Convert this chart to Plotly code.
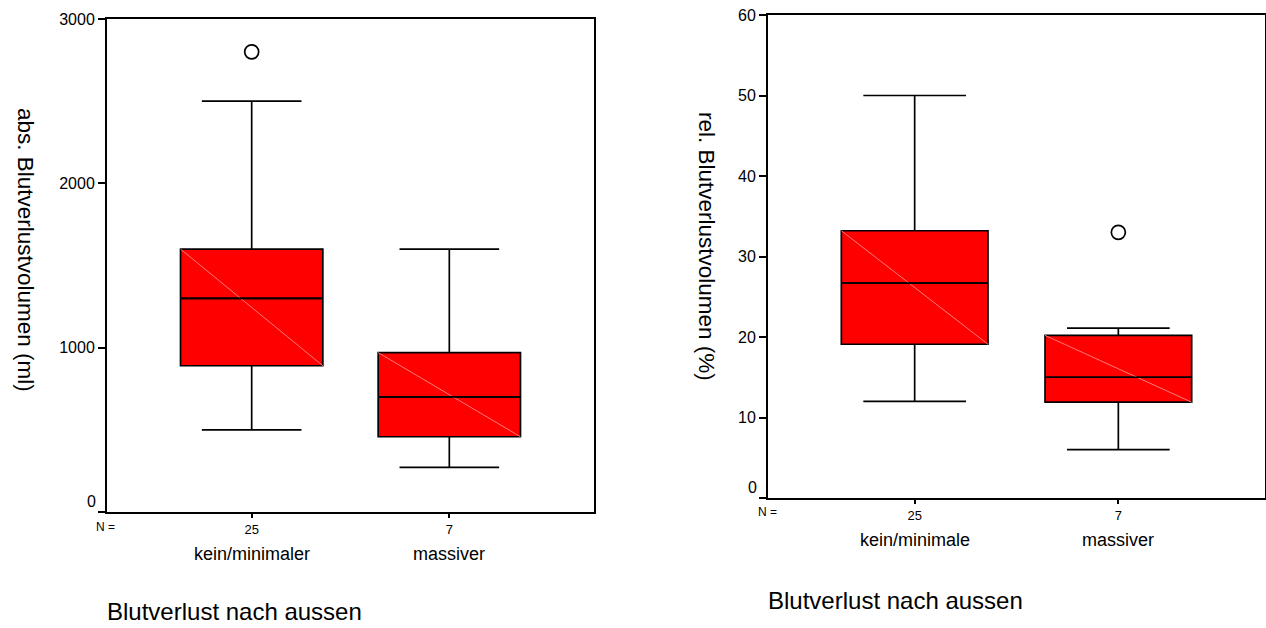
import plotly.graph_objects as go

# ---- data ----
categories = ["kein/minimaler", "massiver"]
categories_r = ["kein/minimale", "massiver"]
n_labels = ["25", "7"]

abs_q1 = [890, 458]
abs_median = [1300, 700]
abs_q3 = [1600, 970]
abs_low = [500, 272]
abs_high = [2500, 1600]
abs_outlier_x = [0]
abs_outlier_y = [2800]

rel_q1 = [19.1, 11.9]
rel_median = [26.7, 15.0]
rel_q3 = [33.2, 20.2]
rel_low = [12.0, 6.0]
rel_high = [50.0, 21.1]
rel_outlier_x = [1]
rel_outlier_y = [33.0]

abs_ticks = [0, 1000, 2000, 3000]
rel_ticks = [0, 10, 20, 30, 40, 50, 60]

positions = [0, 1]
BOXW = 0.72
FONT = "Arial, Liberation Sans, sans-serif"

fig = go.Figure()


def add_panel(q1, med, q3, lo, hi, ox, oy, xa, ya):
    fig.add_trace(go.Box(
        x=positions, q1=q1, median=med, q3=q3, lowerfence=lo, upperfence=hi,
        width=BOXW, whiskerwidth=0.7, boxpoints=False,
        fillcolor="#ff0000", line=dict(color="black", width=1.7),
        xaxis=xa, yaxis=ya, showlegend=False, hoverinfo="skip"))
    # faint diagonal inside each box
    for p, a, b in zip(positions, q3, q1):
        fig.add_trace(go.Scatter(
            x=[p - BOXW / 2, p + BOXW / 2], y=[a, b], mode="lines",
            line=dict(color="#ff7a7a", width=1), xaxis=xa, yaxis=ya,
            showlegend=False, hoverinfo="skip"))
    # redraw median on top of the diagonal
    for p, m in zip(positions, med):
        fig.add_trace(go.Scatter(
            x=[p - BOXW / 2, p + BOXW / 2], y=[m, m], mode="lines",
            line=dict(color="black", width=1.7), xaxis=xa, yaxis=ya,
            showlegend=False, hoverinfo="skip"))
    fig.add_trace(go.Scatter(
        x=ox, y=oy, mode="markers",
        marker=dict(symbol="circle-open", size=14, color="black",
                    line=dict(width=1.7, color="black")),
        xaxis=xa, yaxis=ya, showlegend=False, hoverinfo="skip"))


add_panel(abs_q1, abs_median, abs_q3, abs_low, abs_high,
          abs_outlier_x, abs_outlier_y, "x", "y")
add_panel(rel_q1, rel_median, rel_q3, rel_low, rel_high,
          rel_outlier_x, rel_outlier_y, "x2", "y2")

W, H = 1266, 628


def xdom(a, b):
    return [a / W, b / W]


def ydom(top, bottom):
    return [1 - bottom / H, 1 - top / H]


axis_common = dict(showline=True, linecolor="black", linewidth=2, mirror=True,
                   showgrid=False, zeroline=False, ticks="outside",
                   tickcolor="black", tickwidth=1.5, automargin=False)

fig.update_layout(
    width=W, height=H, margin=dict(l=0, r=0, t=0, b=0, autoexpand=False),
    paper_bgcolor="white", plot_bgcolor="white",
    font=dict(family=FONT, color="black"),
    xaxis=dict(domain=xdom(107, 594), range=[-0.732, 1.732],
               tickvals=positions, ticktext=n_labels, ticklen=4,
               tickfont=dict(size=13), **axis_common),
    yaxis=dict(domain=ydom(19, 512), range=[0, 3000],
               tickvals=abs_ticks,
               ticktext=["" if t == 0 else str(t) for t in abs_ticks],
               ticklen=7, tickfont=dict(size=16), **axis_common),
    xaxis2=dict(domain=xdom(768, 1265), range=[-0.72, 1.72], anchor="y2",
                tickvals=positions, ticktext=n_labels, ticklen=4,
                tickfont=dict(size=13), **axis_common),
    yaxis2=dict(domain=ydom(15, 498), range=[0, 60], anchor="x2",
                tickvals=rel_ticks,
                ticktext=["" if t == 0 else str(t) for t in rel_ticks],
                ticklen=7, tickfont=dict(size=16), **axis_common),
)

ann = []
# zero labels (shifted up like the original)
ann.append(dict(x=0, y=0, xref="x domain", yref="y", text="0", showarrow=False,
                xanchor="right", yanchor="middle", xshift=-9, yshift=11,
                font=dict(size=16)))
ann.append(dict(x=0, y=0, xref="x2 domain", yref="y2", text="0", showarrow=False,
                xanchor="right", yanchor="middle", xshift=-9, yshift=11,
                font=dict(size=16)))
# N =
ann.append(dict(x=105 / W, y=1 - 527 / H, xref="paper", yref="paper", text="N =",
                showarrow=False, xanchor="center", yanchor="middle", font=dict(size=12)))
ann.append(dict(x=767 / W, y=1 - 512 / H, xref="paper", yref="paper", text="N =",
                showarrow=False, xanchor="center", yanchor="middle", font=dict(size=12)))
# category labels
for p, c in zip(positions, categories):
    ann.append(dict(x=p, y=1 - 554 / H, xref="x", yref="paper", text=c,
                    showarrow=False, xanchor="center", yanchor="middle",
                    font=dict(size=18)))
for p, c in zip(positions, categories_r):
    ann.append(dict(x=p, y=1 - 540 / H, xref="x2", yref="paper", text=c,
                    showarrow=False, xanchor="center", yanchor="middle",
                    font=dict(size=18)))
# x titles
ann.append(dict(x=105 / W, y=1 - 611 / H, xref="paper", yref="paper",
                text="Blutverlust nach aussen", showarrow=False,
                xanchor="left", yanchor="middle", font=dict(size=24)))
ann.append(dict(x=766 / W, y=1 - 600 / H, xref="paper", yref="paper",
                text="Blutverlust nach aussen", showarrow=False,
                xanchor="left", yanchor="middle", font=dict(size=24)))
# y titles (rotated clockwise)
ann.append(dict(x=26 / W, y=1 - 250 / H, xref="paper", yref="paper",
                text="abs. Blutverlustvolumen (ml)", showarrow=False, textangle=90,
                xanchor="center", yanchor="middle", font=dict(size=22.5)))
ann.append(dict(x=707 / W, y=1 - 246 / H, xref="paper", yref="paper",
                text="rel. Blutverlustvolumen (%)", showarrow=False, textangle=90,
                xanchor="center", yanchor="middle", font=dict(size=22.5)))

fig.update_layout(annotations=ann)

fig.write_html("out.html")
